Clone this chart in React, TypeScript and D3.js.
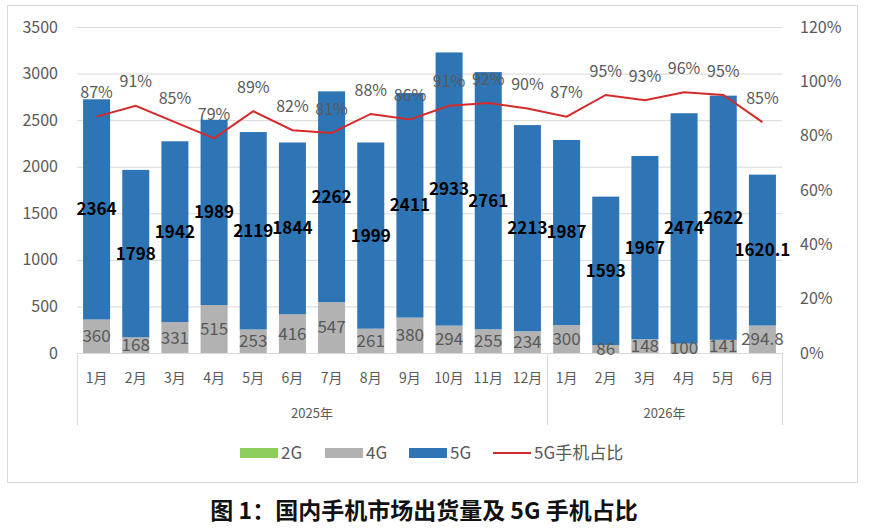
import { useEffect, useRef } from 'react';
import * as d3 from 'd3';

// 月份与年份
const months = ['1月', '2月', '3月', '4月', '5月', '6月', '7月', '8月', '9月', '10月', '11月', '12月',
  '1月', '2月', '3月', '4月', '5月', '6月'];
const years = [
  { label: '2025年', from: 0, to: 12 },
  { label: '2026年', from: 12, to: 18 },
];

// 出货量（万部）
const g2 = [0, 0, 0, 0, 0, 0, 0, 0, 0, 0, 0, 0, 0, 0, 0, 0, 0, 0];
const g4 = [360, 168, 331, 515, 253, 416, 547, 261, 380, 294, 255, 234, 300, 86, 148, 100, 141, 294.8];
const g5 = [2364, 1798, 1942, 1989, 2119, 1844, 2262, 1999, 2411, 2933, 2761, 2213, 1987, 1593, 1967, 2474, 2622, 1620.1];

// 5G手机占比 (%)
const share = [87, 91, 85, 79, 89, 82, 81, 88, 86, 91, 92, 90, 87, 95, 93, 96, 95, 85];

const leftTicks = [0, 500, 1000, 1500, 2000, 2500, 3000, 3500];
const rightTicks = [0, 20, 40, 60, 80, 100, 120];

const colors = { g2: '#8ccf5c', g4: '#b2b2b2', g5: '#2e75b6', line: '#d42a2a' };
const FONT = '"Noto Sans CJK SC", "Open Sans", sans-serif';

const ShipmentChart = () => {
  const svgRef = useRef<SVGSVGElement>(null);

  useEffect(() => {
    if (!svgRef.current) return;
    const svg = d3.select(svgRef.current);
    svg.selectAll('*').remove();

    const W = 882;
    const H = 528;
    const margin = { top: 27, left: 77, right: 100, bottom: 175 };
    const x0 = margin.left;
    const x1 = W - margin.right;
    const y0 = H - margin.bottom;
    const y1 = margin.top;

    svg.attr('width', W).attr('height', H).attr('font-family', FONT);

    svg.append('rect').attr('width', W).attr('height', H).attr('fill', '#fff');

    // 外框
    svg.append('rect')
      .attr('x', 7.5).attr('y', 5.5)
      .attr('width', 850).attr('height', 477)
      .attr('fill', 'none')
      .attr('stroke', '#d9d9d9');

    const rows = months.map((m, i) => ({ key: String(i), m, g2: g2[i], g4: g4[i], g5: g5[i], share: share[i] }));

    const x = d3.scaleBand<string>()
      .domain(rows.map(d => d.key))
      .range([x0, x1])
      .paddingInner(0.31)
      .paddingOuter(0.155);

    const yL = d3.scaleLinear().domain([0, 3500]).range([y0, y1]);
    const yR = d3.scaleLinear().domain([0, 120]).range([y0, y1]);

    // 网格线
    svg.append('g')
      .selectAll('line')
      .data(leftTicks.slice(1))
      .enter().append('line')
      .attr('x1', x0).attr('x2', x1)
      .attr('y1', d => yL(d) + 0.5).attr('y2', d => yL(d) + 0.5)
      .attr('stroke', '#d9d9d9');

    // 左轴
    svg.append('g')
      .selectAll('text')
      .data(leftTicks)
      .enter().append('text')
      .attr('x', 58)
      .attr('y', d => yL(d))
      .attr('dy', '0.35em')
      .attr('text-anchor', 'end')
      .attr('font-size', 16)
      .attr('fill', '#595959')
      .text(d => d);

    // 右轴
    svg.append('g')
      .selectAll('text')
      .data(rightTicks)
      .enter().append('text')
      .attr('x', 800)
      .attr('y', d => yR(d))
      .attr('dy', '0.35em')
      .attr('font-size', 16)
      .attr('fill', '#595959')
      .text(d => `${d}%`);

    // 堆叠柱
    const stack = d3.stack<typeof rows[number]>().keys(['g2', 'g4', 'g5']);
    const series = stack(rows);

    svg.append('g')
      .selectAll('g')
      .data(series)
      .enter().append('g')
      .attr('fill', s => colors[s.key as keyof typeof colors])
      .selectAll('rect')
      .data(s => s)
      .enter().append('rect')
      .attr('x', d => x(d.data.key)!)
      .attr('width', x.bandwidth())
      .attr('y', d => yL(d[1]))
      .attr('height', d => yL(d[0]) - yL(d[1]));

    // 类别轴
    const cat = svg.append('g');
    cat.append('line')
      .attr('x1', x0).attr('x2', x1)
      .attr('y1', y0 + 0.5).attr('y2', y0 + 0.5)
      .attr('stroke', '#d9d9d9');

    const step = x.step();
    const sepX = [0, 12, 18].map(i => x0 + i * step);
    cat.selectAll('line.sep')
      .data(sepX)
      .enter().append('line')
      .attr('class', 'sep')
      .attr('x1', d => Math.round(d) + 0.5).attr('x2', d => Math.round(d) + 0.5)
      .attr('y1', y0).attr('y2', 425)
      .attr('stroke', '#d9d9d9');

    cat.selectAll('text.m')
      .data(rows)
      .enter().append('text')
      .attr('class', 'm')
      .attr('x', d => x(d.key)! + x.bandwidth() / 2)
      .attr('y', 383)
      .attr('text-anchor', 'middle')
      .attr('font-size', 14)
      .attr('fill', '#595959')
      .text(d => d.m);

    cat.selectAll('text.y')
      .data(years)
      .enter().append('text')
      .attr('class', 'y')
      .attr('x', d => x0 + step * (d.from + d.to) / 2)
      .attr('y', 418)
      .attr('text-anchor', 'middle')
      .attr('font-size', 13)
      .attr('fill', '#595959')
      .text(d => d.label);

    // 数值标签
    svg.append('g')
      .selectAll('text')
      .data(series[1])
      .enter().append('text')
      .attr('x', d => x(d.data.key)! + x.bandwidth() / 2)
      .attr('y', d => yL((d[0] + d[1]) / 2))
      .attr('dy', '0.35em')
      .attr('text-anchor', 'middle')
      .attr('font-size', 17)
      .attr('fill', '#595959')
      .text(d => d.data.g4);

    svg.append('g')
      .selectAll('text')
      .data(series[2])
      .enter().append('text')
      .attr('x', d => x(d.data.key)! + x.bandwidth() / 2)
      .attr('y', d => yL((d[0] + d[1]) / 2))
      .attr('dy', '0.35em')
      .attr('text-anchor', 'middle')
      .attr('font-size', 17)
      .attr('font-weight', 'bold')
      .attr('fill', '#000')
      .text(d => d.data.g5);

    // 5G占比折线
    const line = d3.line<typeof rows[number]>()
      .x(d => x(d.key)! + x.bandwidth() / 2)
      .y(d => yR(d.share));

    svg.append('path')
      .datum(rows)
      .attr('fill', 'none')
      .attr('stroke', colors.line)
      .attr('stroke-width', 2)
      .attr('d', line);

    svg.append('g')
      .selectAll('text')
      .data(rows)
      .enter().append('text')
      .attr('x', d => x(d.key)! + x.bandwidth() / 2)
      .attr('y', d => yR(d.share) - 24)
      .attr('dy', '0.35em')
      .attr('text-anchor', 'middle')
      .attr('font-size', 16)
      .attr('fill', '#595959')
      .text(d => `${d.share}%`);

    // 图例
    const legendItems = [
      { label: '2G', color: colors.g2, x: 240, type: 'rect' },
      { label: '4G', color: colors.g4, x: 325, type: 'rect' },
      { label: '5G', color: colors.g5, x: 409, type: 'rect' },
      { label: '5G手机占比', color: colors.line, x: 493, type: 'line' },
    ];
    const legend = svg.append('g')
      .selectAll('g')
      .data(legendItems)
      .enter().append('g')
      .attr('transform', d => `translate(${d.x},453)`);

    legend.filter(d => d.type === 'rect').append('rect')
      .attr('y', -5).attr('width', 38).attr('height', 10)
      .attr('fill', d => d.color);
    legend.filter(d => d.type === 'line').append('line')
      .attr('x2', 38).attr('stroke', d => d.color).attr('stroke-width', 2);
    legend.append('text')
      .attr('x', 41)
      .attr('dy', '0.35em')
      .attr('font-size', 17)
      .attr('fill', '#595959')
      .text(d => d.label);

    // 标题
    svg.append('text')
      .attr('x', 424)
      .attr('y', 519)
      .attr('text-anchor', 'middle')
      .attr('font-size', 23)
      .attr('font-weight', 'bold')
      .attr('fill', '#111')
      .text('图 1：国内手机市场出货量及 5G 手机占比');
  }, []);

  return <svg ref={svgRef} style={{ position: 'absolute', left: 0, top: 0, display: 'block' }} />;
};

export default function App() {
  return <ShipmentChart />;
}
